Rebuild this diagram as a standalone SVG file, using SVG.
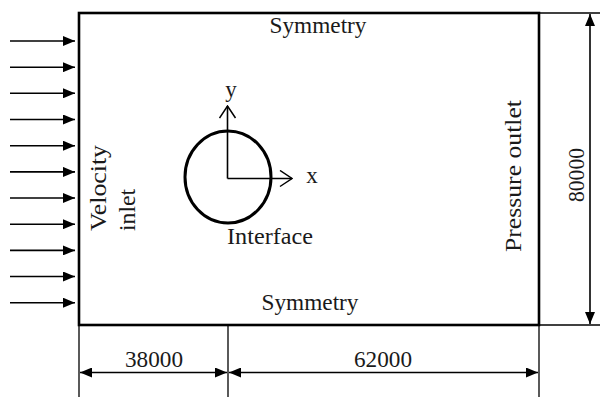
<svg xmlns="http://www.w3.org/2000/svg" width="600" height="397" viewBox="0 0 600 397">
<style>
text{font-family:"Liberation Serif","Times New Roman",serif;fill:#1a1a1a;font-size:23px}
.thin{stroke:#000;stroke-width:1.3;fill:none}
.arr{stroke:#000;stroke-width:1.6;fill:none}
</style>
<defs>
<marker id="fa" viewBox="0 0 12 10" refX="12" refY="5" markerWidth="12" markerHeight="10" markerUnits="userSpaceOnUse" orient="auto-start-reverse">
<path d="M0,0 L12,5 L0,10 Z" fill="#000"/>
</marker>
<marker id="oa" viewBox="0 0 14 18" refX="13" refY="9" markerWidth="14" markerHeight="18" markerUnits="userSpaceOnUse" orient="auto">
<path d="M1,1 L13,9 L1,17" fill="none" stroke="#000" stroke-width="1.5"/>
</marker>
</defs>
<rect width="600" height="397" fill="#fff"/>
<g id="domain">
<rect x="79" y="13" width="460" height="312" fill="none" stroke="#000" stroke-width="2.6"/>
<text x="318" y="33" text-anchor="middle" textLength="97" lengthAdjust="spacingAndGlyphs">Symmetry</text>
<text x="310" y="310" text-anchor="middle" textLength="97" lengthAdjust="spacingAndGlyphs">Symmetry</text>
<text transform="translate(106,231) rotate(-90)" textLength="86" lengthAdjust="spacingAndGlyphs">Velocity</text>
<text transform="translate(135,231) rotate(-90)" textLength="42" lengthAdjust="spacingAndGlyphs">inlet</text>
<text transform="translate(521,252) rotate(-90)" textLength="152" lengthAdjust="spacingAndGlyphs">Pressure outlet</text>
</g>
<g id="cylinder">
<ellipse cx="228" cy="177" rx="43" ry="46" fill="none" stroke="#000" stroke-width="3"/>
<text x="227" y="244" textLength="86" lengthAdjust="spacingAndGlyphs">Interface</text>
</g>
<g id="axes">
<line x1="227.5" y1="178.5" x2="227.5" y2="106" class="arr" marker-end="url(#oa)"/>
<line x1="227.5" y1="178.5" x2="292" y2="178.5" class="arr" marker-end="url(#oa)"/>
<text x="231" y="97" text-anchor="middle">y</text>
<text x="312" y="183" text-anchor="middle">x</text>
</g>
<g id="inflow-arrows">
<line x1="10" y1="41" x2="75" y2="41" class="arr" marker-end="url(#fa)"/>
<line x1="10" y1="67.2" x2="75" y2="67.2" class="arr" marker-end="url(#fa)"/>
<line x1="10" y1="93.3" x2="75" y2="93.3" class="arr" marker-end="url(#fa)"/>
<line x1="10" y1="119.5" x2="75" y2="119.5" class="arr" marker-end="url(#fa)"/>
<line x1="10" y1="145.7" x2="75" y2="145.7" class="arr" marker-end="url(#fa)"/>
<line x1="10" y1="171.9" x2="75" y2="171.9" class="arr" marker-end="url(#fa)"/>
<line x1="10" y1="198" x2="75" y2="198" class="arr" marker-end="url(#fa)"/>
<line x1="10" y1="224.2" x2="75" y2="224.2" class="arr" marker-end="url(#fa)"/>
<line x1="10" y1="250.4" x2="75" y2="250.4" class="arr" marker-end="url(#fa)"/>
<line x1="10" y1="276.5" x2="75" y2="276.5" class="arr" marker-end="url(#fa)"/>
<line x1="10" y1="302.7" x2="75" y2="302.7" class="arr" marker-end="url(#fa)"/>
</g>
<g id="dimensions">
<line x1="539" y1="13" x2="600" y2="13" class="thin"/>
<line x1="539" y1="325" x2="600" y2="325" class="thin"/>
<line x1="590" y1="14" x2="590" y2="324" class="arr" marker-start="url(#fa)" marker-end="url(#fa)"/>
<text transform="translate(584,202) rotate(-90)" textLength="54" lengthAdjust="spacingAndGlyphs">80000</text>
<line x1="79" y1="325" x2="79" y2="397" class="thin"/>
<line x1="228" y1="325" x2="228" y2="397" class="thin"/>
<line x1="539" y1="325" x2="539" y2="397" class="thin"/>
<line x1="80" y1="372.5" x2="227" y2="372.5" class="arr" marker-start="url(#fa)" marker-end="url(#fa)"/>
<line x1="229" y1="372.5" x2="538" y2="372.5" class="arr" marker-start="url(#fa)" marker-end="url(#fa)"/>
<text x="154" y="367" text-anchor="middle" textLength="58" lengthAdjust="spacingAndGlyphs">38000</text>
<text x="383" y="367" text-anchor="middle" textLength="58" lengthAdjust="spacingAndGlyphs">62000</text>
</g>
</svg>
